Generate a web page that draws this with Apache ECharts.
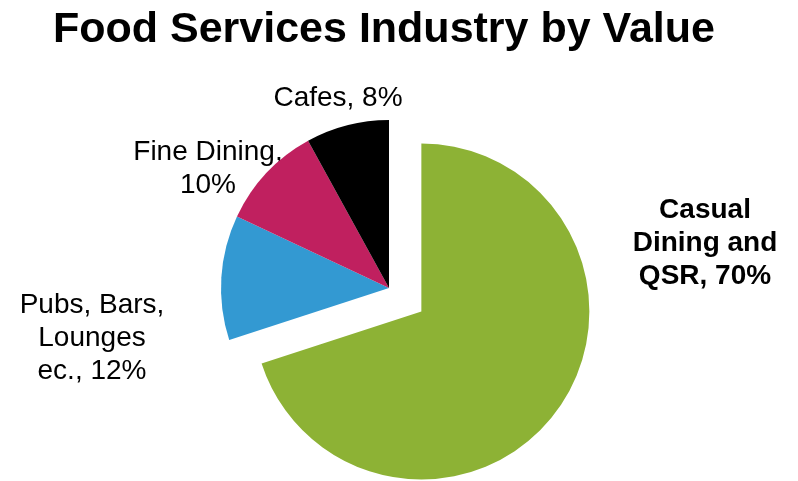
<!DOCTYPE html>
<html>
<head>
<meta charset="utf-8">
<script src="https://cdn.jsdelivr.net/npm/echarts@6/dist/echarts.min.js"></script>
<style>html,body{margin:0;padding:0;background:#fff}#c{width:798px;height:481px}</style>
</head>
<body>
<div id="c"></div>
<script>
const categories = ['Casual\nDining and\nQSR', 'Pubs, Bars,\nLounges\nec.', 'Fine Dining,\n', 'Cafes'];
const values = [70, 12, 10, 8];
const colors = ['#8db235', '#3399d2', '#c0205f', '#000000'];
const labelPos = [[705, 243], [92, 338], [208, 169], [338, 98]];

const labelText = (i) => categories[i] + (i === 2 ? '' : ', ') + values[i] + '%';

const chart = echarts.init(document.getElementById('c'));
chart.setOption({
  animation: false,
  title: {
    text: 'Food Services Industry by Value',
    left: 53,
    top: 9,
    padding: 0,
    textStyle: { fontFamily: 'Liberation Sans', fontSize: 43, fontWeight: 'bold', color: '#000' }
  },
  graphic: categories.map((c, i) => ({
    type: 'text',
    x: labelPos[i][0],
    y: labelPos[i][1],
    silent: true,
    style: {
      text: labelText(i),
      fontFamily: 'Liberation Sans',
      fontSize: 28,
      fontWeight: i === 0 ? 'bold' : 'normal',
      lineHeight: 33,
      fill: '#000',
      textAlign: 'center',
      textVerticalAlign: 'middle'
    }
  })),
  series: [{
    type: 'pie',
    center: [389, 288],
    radius: 168,
    startAngle: 90,
    clockwise: true,
    selectedMode: 'single',
    selectedOffset: 40,
    silent: true,
    emphasis: { disabled: true },
    labelLine: { show: false },
    label: { show: false },
    data: categories.map((c, i) => ({
      name: c,
      value: values[i],
      selected: i === 0,
      itemStyle: { color: colors[i] }
    }))
  }]
});
</script>
</body>
</html>
